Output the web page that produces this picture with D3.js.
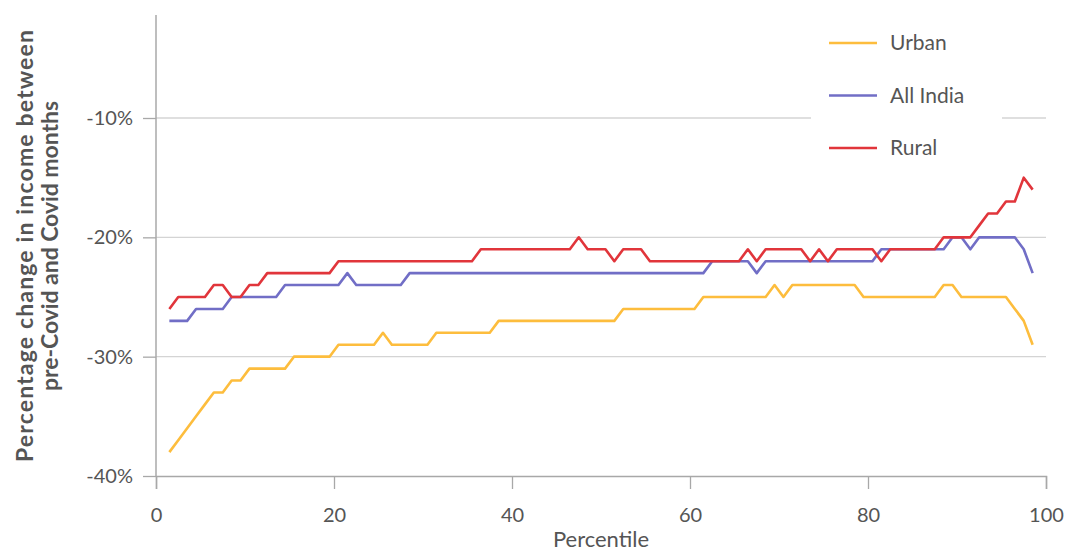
<!DOCTYPE html>
<html lang="en">
<head>
  <meta charset="utf-8">
  <title>Change in income by percentile</title>
  <script src="https://d3js.org/d3.v7.min.js"></script>
  <style>
    body { margin: 0; background: #fff; }
    text { font-family: Lato, "Open Sans", sans-serif; fill: #555; }
  </style>
</head>
<body>
<div id="chart"></div>
<script>
  // percentile bins (mid points)
  var percentiles = [1.5, 2.5, 3.5, 4.5, 5.5, 6.5, 7.5, 8.5, 9.5, 10.5, 11.5, 12.5, 13.5, 14.5, 15.5, 16.5, 17.5, 18.5, 19.5, 20.5,
    21.5, 22.5, 23.5, 24.5, 25.5, 26.5, 27.5, 28.5, 29.5, 30.5, 31.5, 32.5, 33.5, 34.5, 35.5, 36.5, 37.5, 38.5, 39.5, 40.5,
    41.5, 42.5, 43.5, 44.5, 45.5, 46.5, 47.5, 48.5, 49.5, 50.5, 51.5, 52.5, 53.5, 54.5, 55.5, 56.5, 57.5, 58.5, 59.5, 60.5,
    61.5, 62.5, 63.5, 64.5, 65.5, 66.5, 67.5, 68.5, 69.5, 70.5, 71.5, 72.5, 73.5, 74.5, 75.5, 76.5, 77.5, 78.5, 79.5, 80.5,
    81.5, 82.5, 83.5, 84.5, 85.5, 86.5, 87.5, 88.5, 89.5, 90.5, 91.5, 92.5, 93.5, 94.5, 95.5, 96.5, 97.5, 98.5];

  var urban = [-38, -37, -36, -35, -34, -33, -33, -32, -32, -31, -31, -31, -31, -31, -30, -30, -30, -30, -30, -29,
    -29, -29, -29, -29, -28, -29, -29, -29, -29, -29, -28, -28, -28, -28, -28, -28, -28, -27, -27, -27,
    -27, -27, -27, -27, -27, -27, -27, -27, -27, -27, -27, -26, -26, -26, -26, -26, -26, -26, -26, -26,
    -25, -25, -25, -25, -25, -25, -25, -25, -24, -25, -24, -24, -24, -24, -24, -24, -24, -24, -25, -25,
    -25, -25, -25, -25, -25, -25, -25, -24, -24, -25, -25, -25, -25, -25, -25, -26, -27, -29];

  var allIndia = [-27, -27, -27, -26, -26, -26, -26, -25, -25, -25, -25, -25, -25, -24, -24, -24, -24, -24, -24, -24,
    -23, -24, -24, -24, -24, -24, -24, -23, -23, -23, -23, -23, -23, -23, -23, -23, -23, -23, -23, -23,
    -23, -23, -23, -23, -23, -23, -23, -23, -23, -23, -23, -23, -23, -23, -23, -23, -23, -23, -23, -23,
    -23, -22, -22, -22, -22, -22, -23, -22, -22, -22, -22, -22, -22, -22, -22, -22, -22, -22, -22, -22,
    -21, -21, -21, -21, -21, -21, -21, -21, -20, -20, -21, -20, -20, -20, -20, -20, -21, -23];

  var rural = [-26, -25, -25, -25, -25, -24, -24, -25, -25, -24, -24, -23, -23, -23, -23, -23, -23, -23, -23, -22,
    -22, -22, -22, -22, -22, -22, -22, -22, -22, -22, -22, -22, -22, -22, -22, -21, -21, -21, -21, -21,
    -21, -21, -21, -21, -21, -21, -20, -21, -21, -21, -22, -21, -21, -21, -22, -22, -22, -22, -22, -22,
    -22, -22, -22, -22, -22, -21, -22, -21, -21, -21, -21, -21, -22, -21, -22, -21, -21, -21, -21, -21,
    -22, -21, -21, -21, -21, -21, -21, -20, -20, -20, -20, -19, -18, -18, -17, -17, -15, -16];

  var seriesNames = ["Urban", "All India", "Rural"];
  var seriesColors = ["#fdbd3d", "#716ec6", "#e1353b"];
  var xTicks = [0, 20, 40, 60, 80, 100];
  var yTicks = [-10, -20, -30, -40];

  var width = 1076, height = 554;
  var margin = { left: 156, right: 30 };

  var svg = d3.select("#chart").append("svg")
    .attr("width", width)
    .attr("height", height);

  var x = d3.scaleLinear().domain([0, 100]).range([margin.left, width - margin.right]);
  var y = d3.scaleLinear().domain([-40, -10]).range([476, 118]);
  var yTop = y.invert(15);

  // horizontal grid lines
  svg.append("g")
    .selectAll("line")
    .data(yTicks.filter(function (d) { return d > -40; }))
    .enter().append("line")
    .attr("x1", x(0)).attr("x2", x(100))
    .attr("y1", function (d) { return y(d); })
    .attr("y2", function (d) { return y(d); })
    .attr("stroke", "#d4d4d4")
    .attr("stroke-width", 1.3);

  // y axis
  var yAxis = svg.append("g")
    .attr("transform", "translate(" + x(0) + ",0)")
    .call(d3.axisLeft(y).tickValues(yTicks).tickSize(13).tickPadding(10)
      .tickFormat(function (d) { return d + "%"; }));
  yAxis.select(".domain").remove();
  svg.append("line")
    .attr("x1", x(0)).attr("x2", x(0))
    .attr("y1", y(yTop)).attr("y2", y(-40))
    .attr("stroke", "#a8a8a8").attr("stroke-width", 1.5);

  // x axis
  var xAxis = svg.append("g")
    .attr("transform", "translate(0," + y(-40) + ")")
    .call(d3.axisBottom(x).tickValues(xTicks).tickSize(13).tickPadding(19));

  [yAxis, xAxis].forEach(function (g) {
    g.selectAll(".domain").attr("stroke", "#a8a8a8").attr("stroke-width", 1.5);
    g.selectAll(".tick line").attr("stroke", "#a8a8a8").attr("stroke-width", 1.3);
    g.selectAll(".tick text")
      .style("font-family", "Lato, sans-serif")
      .style("font-size", "20px")
      .attr("fill", "#555");
  });

  // lines
  var line = d3.line()
    .x(function (d) { return x(d.p); })
    .y(function (d) { return y(d.v); });

  [urban, allIndia, rural].forEach(function (vals, i) {
    var pts = percentiles.map(function (p, j) { return { p: p, v: vals[j] }; });
    svg.append("path")
      .datum(pts)
      .attr("d", line)
      .attr("fill", "none")
      .attr("stroke", seriesColors[i])
      .attr("stroke-width", 2.6)
      .attr("stroke-linejoin", "round");
  });

  // legend
  var legend = svg.append("g");
  legend.append("rect")
    .attr("x", 811).attr("y", 22)
    .attr("width", 191).attr("height", 146)
    .attr("fill", "#fff");
  seriesNames.forEach(function (name, i) {
    var ly = 43 + i * 52.5;
    legend.append("line")
      .attr("x1", 829).attr("x2", 877)
      .attr("y1", ly).attr("y2", ly)
      .attr("stroke", seriesColors[i])
      .attr("stroke-width", 2.6);
    legend.append("text")
      .attr("x", 890).attr("y", ly)
      .attr("dy", "0.35em")
      .style("font-size", "21px")
      .text(name);
  });

  // axis titles
  svg.append("text")
    .attr("x", (x(0) + x(100)) / 2)
    .attr("y", 547)
    .attr("text-anchor", "middle")
    .style("font-size", "22px")
    .text("Percentile");

  var yTitle = svg.append("text")
    .attr("transform", "translate(33,246) rotate(-90)")
    .attr("text-anchor", "middle")
    .style("font-size", "23px")
    .style("font-weight", "bold");
  yTitle.append("tspan").attr("x", 0).attr("dy", 0)
    .attr("textLength", 432).attr("lengthAdjust", "spacing")
    .text("Percentage change in income between");
  yTitle.append("tspan").attr("x", 0).attr("dy", 25)
    .attr("textLength", 290).attr("lengthAdjust", "spacing")
    .text("pre-Covid and Covid months");
</script>
</body>
</html>
